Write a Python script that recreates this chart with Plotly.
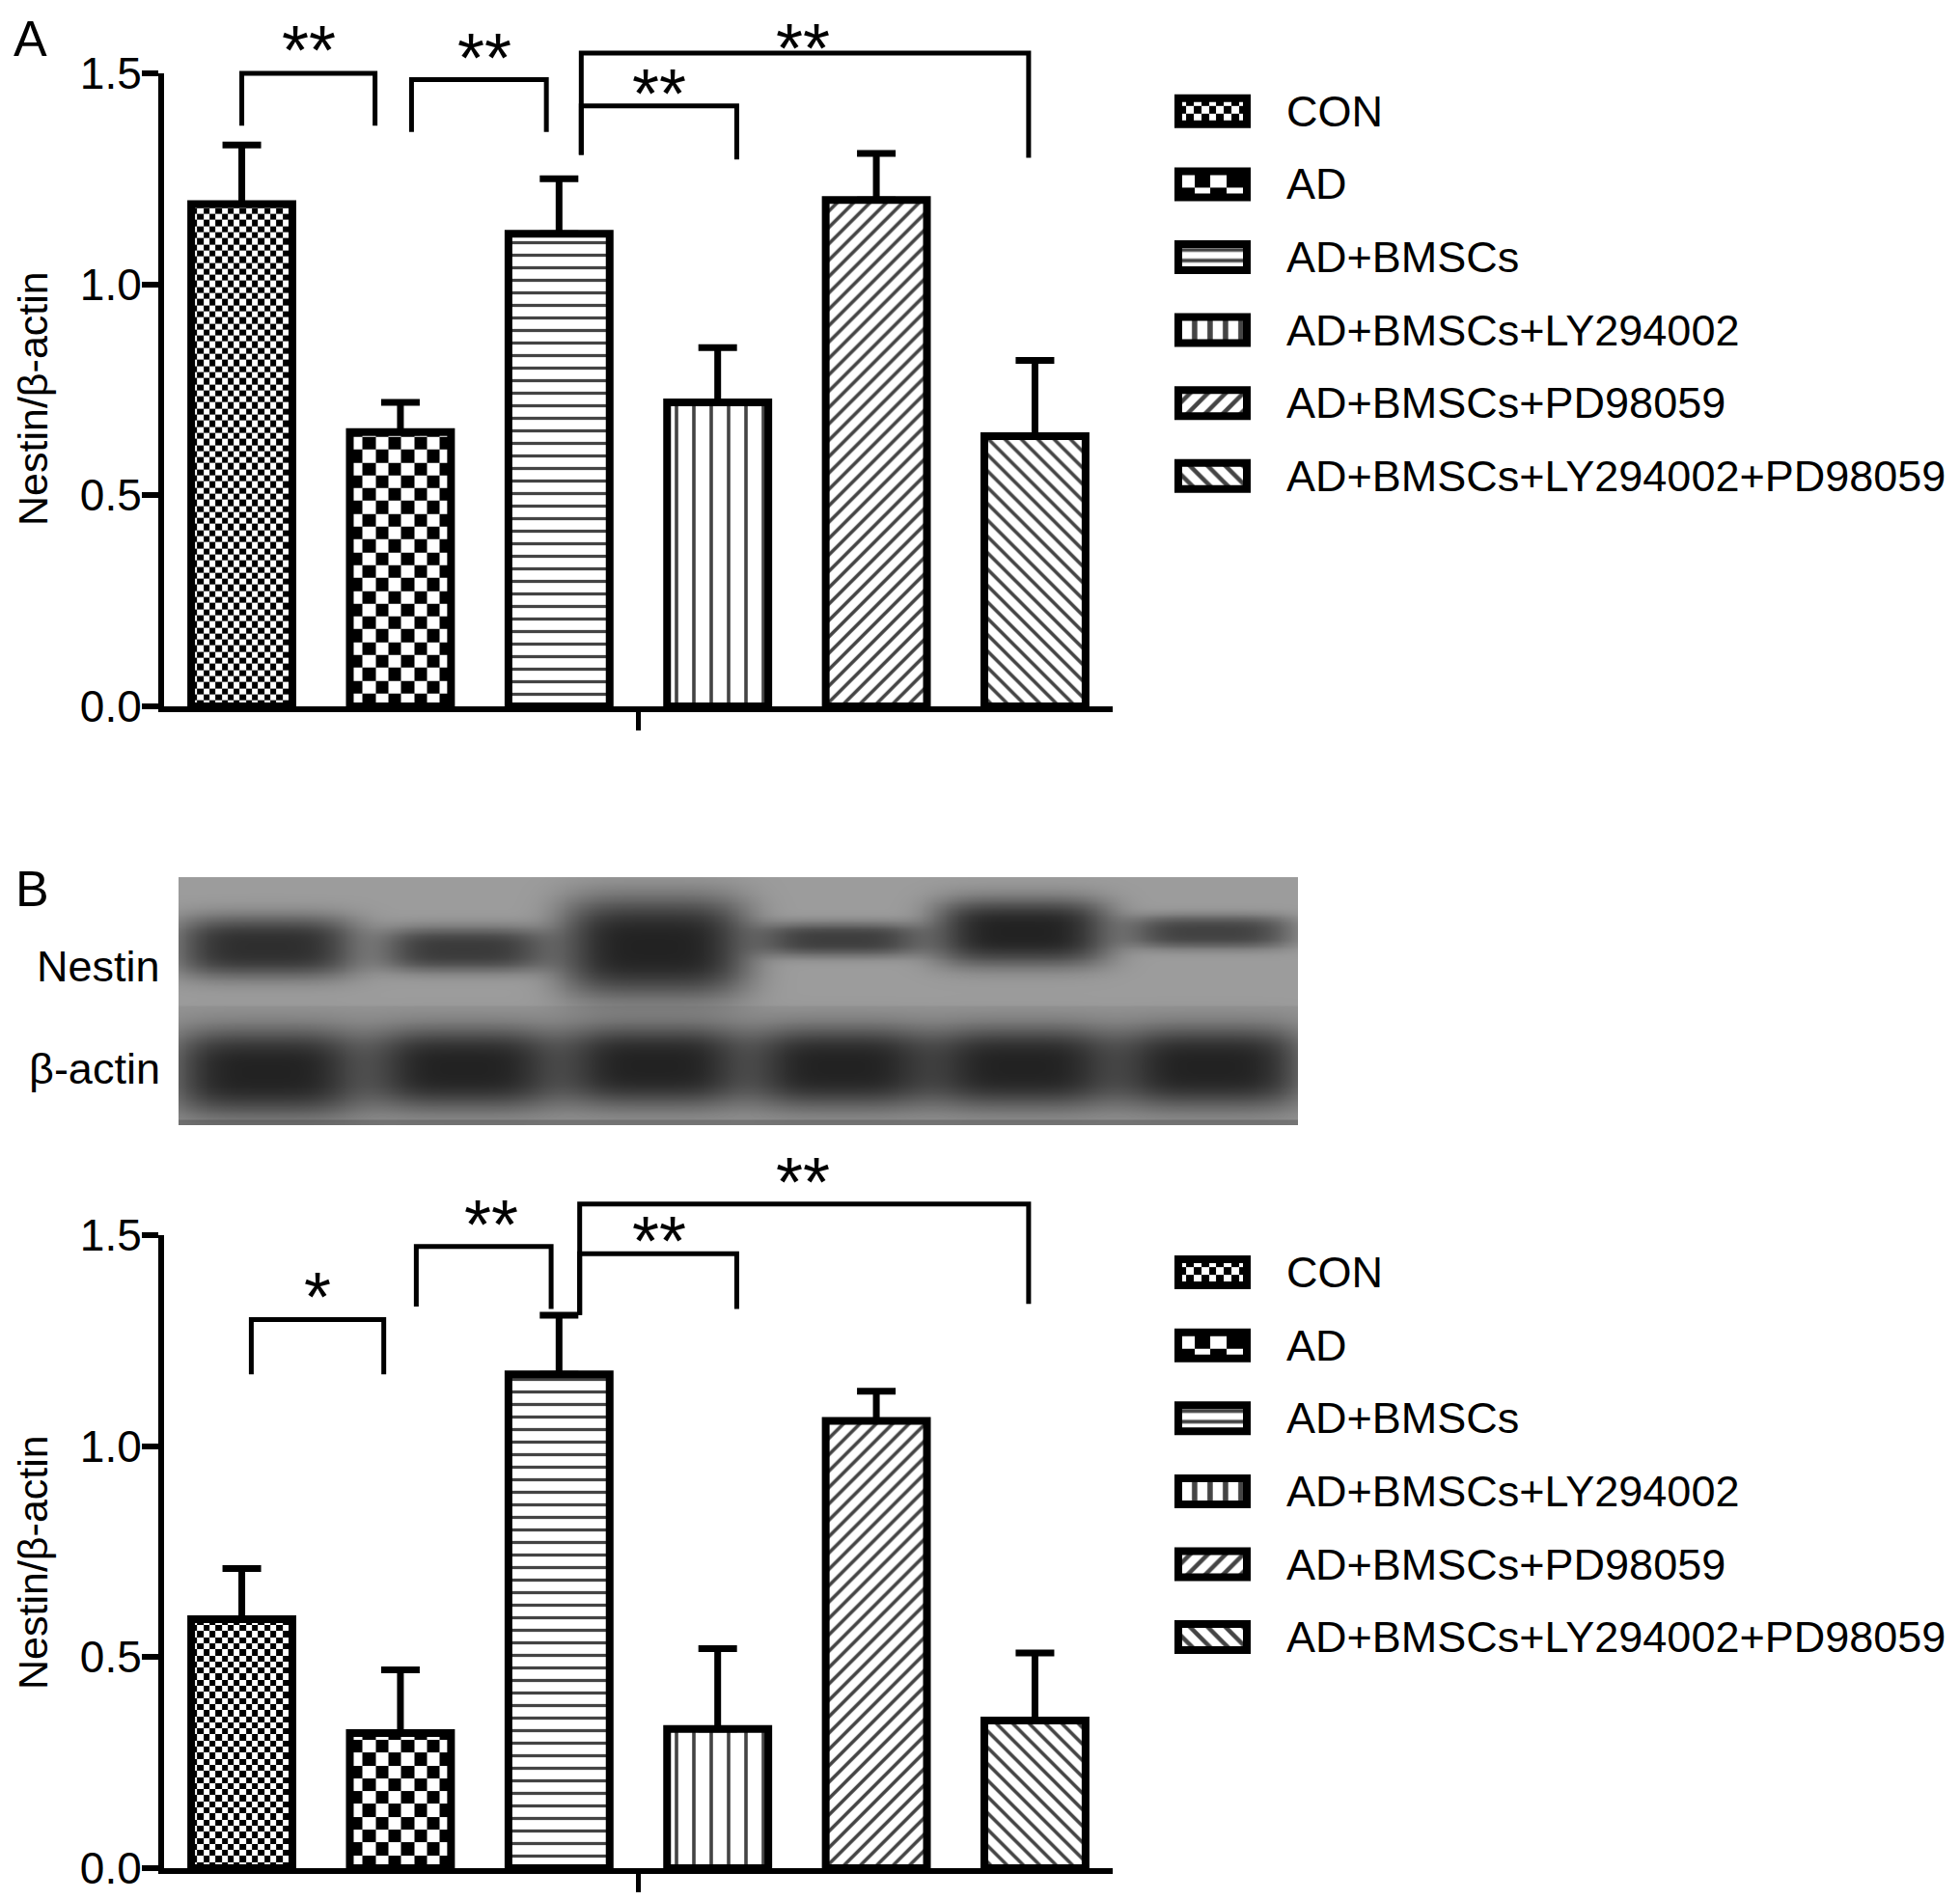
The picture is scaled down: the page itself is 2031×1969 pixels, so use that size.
import numpy as np
import plotly.graph_objects as go

# ---------------- data ----------------
categories = ["CON", "AD", "AD+BMSCs", "AD+BMSCs+LY294002",
              "AD+BMSCs+PD98059", "AD+BMSCs+LY294002+PD98059"]
a_mean = [1.19, 0.65, 1.12, 0.72, 1.20, 0.64]
a_err = [0.14, 0.07, 0.13, 0.13, 0.11, 0.18]
b_mean = [0.59, 0.32, 1.17, 0.33, 1.06, 0.35]
b_err = [0.12, 0.15, 0.14, 0.19, 0.07, 0.16]
y_ticks = [0.0, 0.5, 1.0, 1.5]
y_title = "Nestin/β-actin"

# significance brackets (x in category units, y in data units)
a_sig_xl = [0.00, 1.07, 2.14, 2.14]
a_sig_xr = [0.84, 1.92, 3.12, 4.96]
a_sig_top = [1.500, 1.485, 1.423, 1.548]
a_sig_lend = [1.376, 1.361, 1.307, 1.307]
a_sig_rend = [1.376, 1.361, 1.296, 1.300]
a_sig_text = ["**", "**", "**", "**"]
a_sig_tx = [0.42, 1.53, 2.63, 3.54]
a_sig_ty = [1.556, 1.536, 1.451, 1.5595]

b_sig_xl = [0.06, 1.10, 2.13, 2.13]
b_sig_xr = [0.895, 1.95, 3.12, 4.96]
b_sig_top = [1.300, 1.473, 1.456, 1.574]
b_sig_lend = [1.170, 1.331, 1.311, 1.311]
b_sig_rend = [1.170, 1.325, 1.325, 1.337]
b_sig_text = ["*", "**", "**", "**"]
b_sig_tx = [0.477, 1.573, 2.63, 3.54]
b_sig_ty = [1.353, 1.526, 1.486, 1.626]

# western blot band description (lane units / relative height in strip)
blot_labels = ["Nestin", "β-actin"]
lane_x = [0.47, 1.53, 2.55, 3.55, 4.52, 5.53]
nestin_y = [0.72, 0.71, 0.72, 0.75, 0.78, 0.78]
nestin_h = [0.11, 0.08, 0.18, 0.06, 0.12, 0.06]
nestin_w = [0.45, 0.41, 0.46, 0.40, 0.43, 0.41]
nestin_dark = [0.90, 0.80, 1.0, 0.77, 1.0, 0.74]
actin_y = [0.215, 0.23, 0.24, 0.235, 0.235, 0.235]
actin_h = [0.155, 0.145, 0.145, 0.145, 0.145, 0.145]
actin_w = [0.47, 0.46, 0.45, 0.44, 0.45, 0.46]
actin_dark = [1.0, 1.0, 1.0, 1.0, 1.0, 1.0]

# ---------------- layout geometry (pixels) ----------------
W, H = 2031, 1969
OFF = 8  # page body margin of the rendered html
def fx(p): return (p - OFF) / W
def fy(p): return 1 - (p - OFF) / H

PLOT_L, PLOT_R = 170, 1153
X_RANGE = [-0.49, 5.49]
A_ZERO, A_TOP = 732, 76
B_ZERO, B_TOP = 1936, 1280
XPX = (PLOT_R - PLOT_L) / (X_RANGE[1] - X_RANGE[0])
A_UNIT = (A_ZERO - A_TOP) / 1.5
B_UNIT = (B_ZERO - B_TOP) / 1.5
BAR_W = 0.638
LINE_W = 8

FONT = "Liberation Sans, Arial, sans-serif"

pat_shape = ["", "", "-", "|", "/", "\\"]
pat_size = [8, 8, 13, 18, 12, 12]
pat_solid = [0.3, 0.3, 0.25, 0.2, 0.3, 0.3]
fill_col = ["rgba(0,0,0,0)", "rgba(0,0,0,0)", "white", "white", "white", "white"]
checker_px = [6.3, 13.3, None, None, None, None]

fig = go.Figure()


def checker(x0, x1, y0, y1, cx, cy, xa, ya):
    xe = np.arange(x0, x1 - 1e-9, cx)
    xe = np.append(xe, x1)
    ye = np.arange(y0, y1 - 1e-9, cy)
    ye = np.append(ye, y1)
    nx, ny = len(xe) - 1, len(ye) - 1
    z = (np.add.outer(np.arange(ny), np.arange(nx)) % 2).astype(float)
    return go.Heatmap(x=xe, y=ye, z=z, zmin=0, zmax=1,
                      colorscale=[[0, "white"], [1, "black"]],
                      showscale=False, hoverinfo="skip", xaxis=xa, yaxis=ya)


def add_panel(means, errs, xa, ya, unit):
    for i, m in enumerate(means):
        if checker_px[i]:
            c = checker_px[i]
            fig.add_trace(checker(i - BAR_W / 2, i + BAR_W / 2, 0, m,
                                  c / XPX, c / unit, xa, ya))
    fig.add_trace(go.Bar(
        x=list(range(len(means))), y=means, width=BAR_W, xaxis=xa, yaxis=ya,
        marker=dict(color=fill_col, line=dict(color="black", width=LINE_W),
                    pattern=dict(shape=pat_shape, size=pat_size, solidity=pat_solid,
                                 fgcolor="black", fgopacity=1, fillmode="overlay")),
        error_y=dict(type="data", array=errs, arrayminus=[0] * len(errs),
                     symmetric=False, color="black", thickness=7, width=20),
        showlegend=False, hoverinfo="skip"))


def add_sig(xl, xr, top, le, re_, texts, tx, ty, xa, ya):
    xs, ys = [], []
    for i in range(len(xl)):
        xs += [xl[i], xl[i], xr[i], xr[i], None]
        ys += [le[i], top[i], top[i], re_[i], None]
    fig.add_trace(go.Scatter(x=xs, y=ys, mode="lines", xaxis=xa, yaxis=ya,
                             line=dict(color="black", width=5),
                             showlegend=False, hoverinfo="skip"))
    for i in range(len(texts)):
        fig.add_annotation(x=tx[i], y=ty[i], xref=xa, yref=ya, text=texts[i],
                           showarrow=False, xanchor="center", yanchor="middle",
                           font=dict(family=FONT, size=72, color="black"))


def add_legend(xa, ya, row_px):
    n = len(categories)
    bh = (35 - LINE_W) / row_px
    for i in range(n):
        if checker_px[i]:
            c = checker_px[i] * 1.25
            fig.add_trace(checker(0, 1, i - bh / 2, i + bh / 2,
                                  c / 71.0, c / row_px, xa, ya))
    fig.add_trace(go.Bar(
        y=list(range(n)), x=[1] * n, base=0, orientation="h", width=bh,
        xaxis=xa, yaxis=ya,
        marker=dict(color=fill_col, line=dict(color="black", width=LINE_W),
                    pattern=dict(shape=pat_shape, size=[10, 10, 11, 16, 13, 13],
                                 solidity=0.35, fgcolor="black", fgopacity=1,
                                 fillmode="overlay")),
        showlegend=False, hoverinfo="skip"))
    for i, name in enumerate(categories):
        fig.add_annotation(x=fx(1331), y=i, xref="paper", yref=ya, text=name,
                           showarrow=False, xanchor="left", yanchor="middle",
                           font=dict(family=FONT, size=45, color="black"))


# panel A
add_panel(a_mean, a_err, "x", "y", A_UNIT)
add_sig(a_sig_xl, a_sig_xr, a_sig_top, a_sig_lend, a_sig_rend,
        a_sig_text, a_sig_tx, a_sig_ty, "x2", "y2")
# panel B
add_panel(b_mean, b_err, "x3", "y3", B_UNIT)
add_sig(b_sig_xl, b_sig_xr, b_sig_top, b_sig_lend, b_sig_rend,
        b_sig_text, b_sig_tx, b_sig_ty, "x4", "y4")

# western blot image
bx = np.linspace(0, 6, 420)
by = np.linspace(0, 1, 110)
BX, BY = np.meshgrid(bx, by)
dark = np.zeros_like(BX)
for i in range(len(lane_x)):
    for yy, hh, ww, dd in ((nestin_y[i], nestin_h[i], nestin_w[i], nestin_dark[i]),
                           (actin_y[i], actin_h[i], actin_w[i], actin_dark[i])):
        px_ = np.exp(-0.69 * np.abs((BX - lane_x[i]) / ww) ** 4)
        py_ = np.exp(-0.69 * np.abs((BY - yy) / hh) ** 3)
        dark += dd * px_ * py_
dark = np.clip(dark, 0, 1)
bg = np.where(BY > 0.48, 156.0, 148.0)
bg = np.where(BY < 0.02, 120.0, bg)
zb = bg - (bg - 34.0) * dark
fig.add_trace(go.Heatmap(x=bx, y=by, z=zb, zmin=0, zmax=255, zsmooth="best",
                         colorscale=[[0, "rgb(0,0,0)"], [1, "rgb(255,255,255)"]],
                         showscale=False, hoverinfo="skip", xaxis="x5", yaxis="y5"))

# legends
ROW = 75.6
A_ROW0 = 115.3
B_ROW0 = 1318.6
add_legend("x6", "y6", ROW)
add_legend("x7", "y7", ROW)

axis_common = dict(showgrid=False, zeroline=False, automargin=False)
main_x = dict(range=X_RANGE, showline=True, linewidth=6, linecolor="black",
              tickvals=[2.5], ticks="outside", ticklen=19, tickwidth=5,
              tickcolor="black", showticklabels=False, **axis_common)
main_y = dict(range=[0, 1.5], showline=True, linewidth=6, linecolor="black",
              tickvals=y_ticks, tickformat=".1f", ticks="outside", ticklen=17,
              tickwidth=6, tickcolor="black",
              tickfont=dict(family=FONT, size=46, color="black"), **axis_common)
hidden = dict(visible=False, **axis_common)

leg_l, leg_r = 1256.5 - 71 * 0.6, 1256.5 + 71 * 0.6

fig.update_layout(
    width=W, height=H,
    margin=dict(l=0, r=0, t=0, b=0, pad=0, autoexpand=False),
    paper_bgcolor="white", plot_bgcolor="rgba(0,0,0,0)", showlegend=False,
    xaxis=dict(domain=[fx(PLOT_L), fx(PLOT_R)], anchor="y", **main_x),
    yaxis=dict(domain=[fy(A_ZERO), fy(A_TOP)], anchor="x", **main_y),
    xaxis2=dict(domain=[fx(PLOT_L), fx(PLOT_R)], anchor="y2", range=X_RANGE, **hidden),
    yaxis2=dict(domain=[fy(A_ZERO), 1.0], anchor="x2",
                range=[0, (A_ZERO - OFF) / A_UNIT], **hidden),
    xaxis3=dict(domain=[fx(PLOT_L), fx(PLOT_R)], anchor="y3", **main_x),
    yaxis3=dict(domain=[fy(B_ZERO), fy(B_TOP)], anchor="x3", **main_y),
    xaxis4=dict(domain=[fx(PLOT_L), fx(PLOT_R)], anchor="y4", range=X_RANGE, **hidden),
    yaxis4=dict(domain=[fy(B_ZERO), fy(1190)], anchor="x4",
                range=[0, (B_ZERO - 1190) / B_UNIT], **hidden),
    xaxis5=dict(domain=[fx(185), fx(1345)], anchor="y5", range=[0, 6], **hidden),
    yaxis5=dict(domain=[fy(1166), fy(909)], anchor="x5", range=[0, 1], **hidden),
    xaxis6=dict(domain=[fx(leg_l), fx(leg_r)], anchor="y6", range=[-0.1, 1.1], **hidden),
    yaxis6=dict(domain=[fy(A_ROW0 + 5.5 * ROW), fy(A_ROW0 - 0.5 * ROW)], anchor="x6",
                range=[5.5, -0.5], **hidden),
    xaxis7=dict(domain=[fx(leg_l), fx(leg_r)], anchor="y7", range=[-0.1, 1.1], **hidden),
    yaxis7=dict(domain=[fy(B_ROW0 + 5.5 * ROW), fy(B_ROW0 - 0.5 * ROW)], anchor="x7",
                range=[5.5, -0.5], **hidden),
)
try:
    fig.update_layout(yaxis_ticklabelstandoff=-9, yaxis3_ticklabelstandoff=-9)
except Exception:
    pass

# text labels
fig.add_annotation(x=fx(12), y=1 - 1.0 / H, xref="paper", yref="paper", text="A",
                   showarrow=False, xanchor="left", yanchor="top",
                   font=dict(family=FONT, size=52, color="black"))
fig.add_annotation(x=fx(14), y=fy(921), xref="paper", yref="paper", text="B",
                   showarrow=False, xanchor="left", yanchor="middle",
                   font=dict(family=FONT, size=52, color="black"))
for lab, ypx in zip(blot_labels, [1001, 1107]):
    fig.add_annotation(x=fx(168), y=fy(ypx), xref="paper", yref="paper", text=lab,
                       showarrow=False, xanchor="right", yanchor="middle",
                       font=dict(family=FONT, size=45, color="black"))
for ypx in [413, 1619]:
    fig.add_annotation(x=fx(34), y=fy(ypx), xref="paper", yref="paper", text=y_title,
                       showarrow=False, textangle=-90, xanchor="center", yanchor="middle",
                       font=dict(family=FONT, size=43, color="black"))

fig.write_html("out.html")
